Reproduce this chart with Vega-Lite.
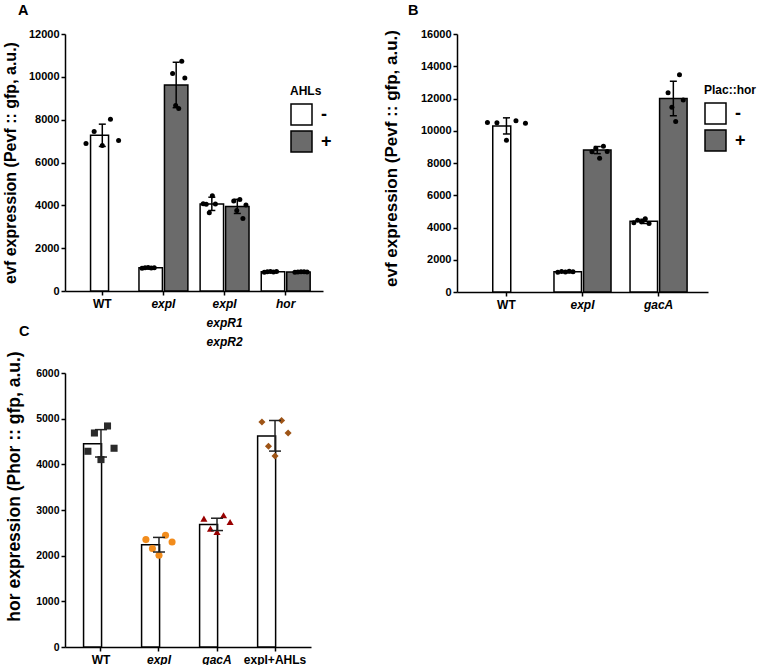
{
"$schema": "https://vega.github.io/schema/vega-lite/v6.json",
"padding": {"left": 2, "top": 2, "right": 0, "bottom": 0},
"background": "white",
"config": {
 "font": "Liberation Sans",
 "view": {"stroke": null},
 "axis": {"domainColor": "black", "domainWidth": 1.5, "tickColor": "black", "tickWidth": 1.5, "tickSize": 4, "grid": false, "labelColor": "black", "labelFontWeight": "bold", "titleColor": "black", "titleFontWeight": "bold", "labelFontSize": 11},
 "axisY": {"labelPadding": 2, "format": "d"},
 "axisX": {"labelPadding": 3, "labelFontSize": 12},
 "legend": {"orient": "none", "symbolType": "square", "symbolSize": 441, "symbolStrokeColor": "black", "symbolStrokeWidth": 1.5, "rowPadding": 0, "labelFontSize": 18, "labelFontWeight": "bold", "labelColor": "black", "titleFontSize": 12, "titleColor": "black", "titleFontWeight": "bold", "labelOffset": 8, "titlePadding": 5},
 "title": {"fontSize": 14.5, "fontWeight": "bold", "anchor": "start", "frame": "group", "color": "black"}
},
"datasets": {
 "aSum": [
  {"group": "WT", "cond": "-", "mean": 7270, "lo": 6750, "hi": 7790},
  {"group": "expI", "cond": "-", "mean": 1080, "lo": 1040, "hi": 1120},
  {"group": "expI", "cond": "+", "mean": 9620, "lo": 8560, "hi": 10680},
  {"group": "expI expR1 expR2", "cond": "-", "mean": 4060, "lo": 3760, "hi": 4380},
  {"group": "expI expR1 expR2", "cond": "+", "mean": 3950, "lo": 3620, "hi": 4280},
  {"group": "hor", "cond": "-", "mean": 900, "lo": 875, "hi": 925},
  {"group": "hor", "cond": "+", "mean": 890, "lo": 865, "hi": 915}
 ],
 "aPts": [
  {"group": "WT", "cond": "-", "rep": "-1", "value": 6889},
  {"group": "WT", "cond": "-", "rep": "-2", "value": 7448},
  {"group": "WT", "cond": "-", "rep": "-3", "value": 6796},
  {"group": "WT", "cond": "-", "rep": "-4", "value": 8022},
  {"group": "WT", "cond": "-", "rep": "-5", "value": 7028},
  {"group": "expI", "cond": "-", "rep": "-1", "value": 1060},
  {"group": "expI", "cond": "-", "rep": "-2", "value": 1090},
  {"group": "expI", "cond": "-", "rep": "-3", "value": 1100},
  {"group": "expI", "cond": "-", "rep": "-4", "value": 1070},
  {"group": "expI", "cond": "-", "rep": "-5", "value": 1080},
  {"group": "expI", "cond": "+", "rep": "+1", "value": 10150},
  {"group": "expI", "cond": "+", "rep": "+2", "value": 8661},
  {"group": "expI", "cond": "+", "rep": "+3", "value": 8521},
  {"group": "expI", "cond": "+", "rep": "+4", "value": 10726},
  {"group": "expI", "cond": "+", "rep": "+5", "value": 9950},
  {"group": "expI expR1 expR2", "cond": "-", "rep": "-1", "value": 4072},
  {"group": "expI expR1 expR2", "cond": "-", "rep": "-2", "value": 4050},
  {"group": "expI expR1 expR2", "cond": "-", "rep": "-3", "value": 3654},
  {"group": "expI expR1 expR2", "cond": "-", "rep": "-4", "value": 4446},
  {"group": "expI expR1 expR2", "cond": "-", "rep": "-5", "value": 4060},
  {"group": "expI expR1 expR2", "cond": "+", "rep": "+1", "value": 4198},
  {"group": "expI expR1 expR2", "cond": "+", "rep": "+2", "value": 3764},
  {"group": "expI expR1 expR2", "cond": "+", "rep": "+3", "value": 4276},
  {"group": "expI expR1 expR2", "cond": "+", "rep": "+4", "value": 3390},
  {"group": "expI expR1 expR2", "cond": "+", "rep": "+5", "value": 4011},
  {"group": "hor", "cond": "-", "rep": "-1", "value": 880},
  {"group": "hor", "cond": "-", "rep": "-2", "value": 900},
  {"group": "hor", "cond": "-", "rep": "-3", "value": 910},
  {"group": "hor", "cond": "-", "rep": "-4", "value": 890},
  {"group": "hor", "cond": "-", "rep": "-5", "value": 905},
  {"group": "hor", "cond": "+", "rep": "+1", "value": 880},
  {"group": "hor", "cond": "+", "rep": "+2", "value": 890},
  {"group": "hor", "cond": "+", "rep": "+3", "value": 900},
  {"group": "hor", "cond": "+", "rep": "+4", "value": 895},
  {"group": "hor", "cond": "+", "rep": "+5", "value": 885}
 ],
 "bSum": [
  {"group": "WT", "cond": "-", "mean": 10300, "lo": 9800, "hi": 10800},
  {"group": "expI", "cond": "-", "mean": 1260, "lo": 1200, "hi": 1320},
  {"group": "expI", "cond": "+", "mean": 8800, "lo": 8580, "hi": 9020},
  {"group": "gacA", "cond": "-", "mean": 4380, "lo": 4250, "hi": 4510},
  {"group": "gacA", "cond": "+", "mean": 12000, "lo": 10930, "hi": 13070}
 ],
 "bPts": [
  {"group": "WT", "cond": "-", "rep": "-1", "value": 10514},
  {"group": "WT", "cond": "-", "rep": "-2", "value": 10500},
  {"group": "WT", "cond": "-", "rep": "-3", "value": 9414},
  {"group": "WT", "cond": "-", "rep": "-4", "value": 10620},
  {"group": "WT", "cond": "-", "rep": "-5", "value": 10470},
  {"group": "expI", "cond": "-", "rep": "-1", "value": 1230},
  {"group": "expI", "cond": "-", "rep": "-2", "value": 1270},
  {"group": "expI", "cond": "-", "rep": "-3", "value": 1240},
  {"group": "expI", "cond": "-", "rep": "-4", "value": 1280},
  {"group": "expI", "cond": "-", "rep": "-5", "value": 1260},
  {"group": "expI", "cond": "+", "rep": "+1", "value": 8694},
  {"group": "expI", "cond": "+", "rep": "+2", "value": 8918},
  {"group": "expI", "cond": "+", "rep": "+3", "value": 8297},
  {"group": "expI", "cond": "+", "rep": "+4", "value": 9042},
  {"group": "expI", "cond": "+", "rep": "+5", "value": 8713},
  {"group": "gacA", "cond": "-", "rep": "-1", "value": 4300},
  {"group": "gacA", "cond": "-", "rep": "-2", "value": 4450},
  {"group": "gacA", "cond": "-", "rep": "-3", "value": 4350},
  {"group": "gacA", "cond": "-", "rep": "-4", "value": 4550},
  {"group": "gacA", "cond": "-", "rep": "-5", "value": 4250},
  {"group": "gacA", "cond": "+", "rep": "+1", "value": 12358},
  {"group": "gacA", "cond": "+", "rep": "+2", "value": 11464},
  {"group": "gacA", "cond": "+", "rep": "+3", "value": 10575},
  {"group": "gacA", "cond": "+", "rep": "+4", "value": 13476},
  {"group": "gacA", "cond": "+", "rep": "+5", "value": 11900}
 ],
 "cSum": [
  {"group": "WT", "mean": 4450, "lo": 4160, "hi": 4760},
  {"group": "expI", "mean": 2240, "lo": 2080, "hi": 2400},
  {"group": "gacA", "mean": 2680, "lo": 2550, "hi": 2820},
  {"group": "expI+AHLs", "mean": 4620, "lo": 4290, "hi": 4960}
 ],
 "cPts": [
  {"group": "WT", "rep": "1", "value": 4286},
  {"group": "WT", "rep": "2", "value": 4686},
  {"group": "WT", "rep": "3", "value": 4104},
  {"group": "WT", "rep": "4", "value": 4840},
  {"group": "WT", "rep": "5", "value": 4352},
  {"group": "expI", "rep": "1", "value": 2352},
  {"group": "expI", "rep": "2", "value": 2155},
  {"group": "expI", "rep": "3", "value": 2008},
  {"group": "expI", "rep": "4", "value": 2446},
  {"group": "expI", "rep": "5", "value": 2300},
  {"group": "gacA", "rep": "1", "value": 2812},
  {"group": "gacA", "rep": "2", "value": 2593},
  {"group": "gacA", "rep": "3", "value": 2519},
  {"group": "gacA", "rep": "4", "value": 2884},
  {"group": "gacA", "rep": "5", "value": 2738},
  {"group": "expI+AHLs", "rep": "1", "value": 4928},
  {"group": "expI+AHLs", "rep": "2", "value": 4395},
  {"group": "expI+AHLs", "rep": "3", "value": 4183},
  {"group": "expI+AHLs", "rep": "4", "value": 4958},
  {"group": "expI+AHLs", "rep": "5", "value": 4686}
 ]
},
"columns": 2,
"align": "each",
"bounds": "flush",
"spacing": {"row": 81, "column": 134},
"resolve": {"scale": {"fill": "independent", "color": "independent", "shape": "independent"}, "legend": {"fill": "independent"}},
"concat": [
 {
  "width": 258, "height": 257,
  "title": {"text": "A", "dx": -47, "offset": 10},
  "encoding": {
   "x": {"field": "group", "type": "nominal", "sort": ["WT", "expI", "expI expR1 expR2", "hor"], "scale": {"paddingInner": 0.2, "paddingOuter": 0.21}, "axis": {"title": null, "labelAngle": 0, "labelExpr": "datum.value === 'expI expR1 expR2' ? ['expI','expR1','expR2'] : datum.value", "labelLineHeight": 19, "labelFontStyle": {"condition": {"test": "datum.value === 'WT'", "value": "normal"}, "value": "italic"}}},
   "y": {"field": "mean", "type": "quantitative", "title": "evf expression (Pevf :: gfp, a.u.)", "scale": {"domain": [0, 12000], "nice": false}, "axis": {"values": [0, 2000, 4000, 6000, 8000, 10000, 12000], "titleFontSize": 16, "titlePadding": 10}}
  },
  "layer": [
   {"data": {"name": "aSum"}, "transform": [{"filter": "datum.group === 'WT'"}], "mark": {"type": "bar", "width": {"band": 0.48}, "stroke": "black", "strokeWidth": 1.5},
    "encoding": {"fill": {"field": "cond", "type": "nominal", "scale": {"domain": ["-", "+"], "range": ["#ffffff", "#6b6b6b"]}, "legend": {"title": "AHLs", "legendX": 225, "legendY": 52}}}},
   {"data": {"name": "aSum"}, "transform": [{"filter": "datum.group !== 'WT'"}], "mark": {"type": "bar", "stroke": "black", "strokeWidth": 1.5},
    "encoding": {"xOffset": {"field": "cond", "type": "nominal", "scale": {"domain": ["-", "+"], "paddingInner": 0.08, "paddingOuter": 0}}, "fill": {"field": "cond", "type": "nominal", "scale": {"domain": ["-", "+"], "range": ["#ffffff", "#6b6b6b"]}, "legend": {"title": "AHLs", "legendX": 225, "legendY": 52}}}},
   {"data": {"name": "aPts"}, "transform": [{"filter": "datum.group === 'WT'"}], "mark": {"type": "circle", "size": 25, "color": "black", "opacity": 1},
    "encoding": {"y": {"field": "value", "type": "quantitative", "title": "evf expression (Pevf :: gfp, a.u.)", "scale": {"domain": [0, 12000], "nice": false}}, "xOffset": {"field": "rep", "type": "nominal", "scale": {"domain": ["-1", "-2", "-3", "-4", "-5"], "paddingInner": 0, "paddingOuter": 8}}}},
   {"data": {"name": "aPts"}, "transform": [{"filter": "datum.group !== 'WT'"}], "mark": {"type": "circle", "size": 25, "color": "black", "opacity": 1},
    "encoding": {"y": {"field": "value", "type": "quantitative", "title": "evf expression (Pevf :: gfp, a.u.)", "scale": {"domain": [0, 12000], "nice": false}}, "xOffset": {"field": "rep", "type": "nominal", "scale": {"domain": ["-1", "-2", "-3", "-4", "-5", "g1", "g2", "g3", "g4", "g5", "+1", "+2", "+3", "+4", "+5"], "paddingInner": 0, "paddingOuter": 2.09}}}},
   {"data": {"name": "aSum"}, "transform": [{"filter": "datum.group === 'WT'"}], "mark": {"type": "rule", "color": "black", "strokeWidth": 1.5},
    "encoding": {"y": {"field": "lo", "type": "quantitative", "title": "evf expression (Pevf :: gfp, a.u.)", "scale": {"domain": [0, 12000], "nice": false}}, "y2": {"field": "hi"}}},
   {"data": {"name": "aSum"}, "transform": [{"filter": "datum.group === 'WT'"}], "mark": {"type": "tick", "color": "black", "thickness": 1.5, "size": 7, "opacity": 1},
    "encoding": {"y": {"field": "lo", "type": "quantitative", "title": "evf expression (Pevf :: gfp, a.u.)", "scale": {"domain": [0, 12000], "nice": false}}}},
   {"data": {"name": "aSum"}, "transform": [{"filter": "datum.group === 'WT'"}], "mark": {"type": "tick", "color": "black", "thickness": 1.5, "size": 7, "opacity": 1},
    "encoding": {"y": {"field": "hi", "type": "quantitative", "title": "evf expression (Pevf :: gfp, a.u.)", "scale": {"domain": [0, 12000], "nice": false}}}},
   {"data": {"name": "aSum"}, "transform": [{"filter": "datum.group !== 'WT'"}], "mark": {"type": "rule", "color": "black", "strokeWidth": 1.5},
    "encoding": {"xOffset": {"field": "cond", "type": "nominal", "scale": {"domain": ["-", "+"], "paddingInner": 0.08, "paddingOuter": 0}}, "y": {"field": "lo", "type": "quantitative", "title": "evf expression (Pevf :: gfp, a.u.)", "scale": {"domain": [0, 12000], "nice": false}}, "y2": {"field": "hi"}}},
   {"data": {"name": "aSum"}, "transform": [{"filter": "datum.group !== 'WT'"}], "mark": {"type": "tick", "color": "black", "thickness": 1.5, "size": 7, "opacity": 1},
    "encoding": {"xOffset": {"field": "cond", "type": "nominal", "scale": {"domain": ["-", "+"], "paddingInner": 0.08, "paddingOuter": 0}}, "y": {"field": "lo", "type": "quantitative", "title": "evf expression (Pevf :: gfp, a.u.)", "scale": {"domain": [0, 12000], "nice": false}}}},
   {"data": {"name": "aSum"}, "transform": [{"filter": "datum.group !== 'WT'"}], "mark": {"type": "tick", "color": "black", "thickness": 1.5, "size": 7, "opacity": 1},
    "encoding": {"xOffset": {"field": "cond", "type": "nominal", "scale": {"domain": ["-", "+"], "paddingInner": 0.08, "paddingOuter": 0}}, "y": {"field": "hi", "type": "quantitative", "title": "evf expression (Pevf :: gfp, a.u.)", "scale": {"domain": [0, 12000], "nice": false}}}}
  ],
  "resolve": {"scale": {"xOffset": "independent"}}
 },
 {
  "width": 251, "height": 258,
  "title": {"text": "B", "dx": -49, "offset": 10},
  "encoding": {
   "x": {"field": "group", "type": "nominal", "sort": ["WT", "expI", "gacA"], "scale": {"paddingInner": 0.25, "paddingOuter": 0.275}, "axis": {"title": null, "labelAngle": 0, "labelFontStyle": {"condition": {"test": "datum.value === 'WT'", "value": "normal"}, "value": "italic"}}},
   "y": {"field": "mean", "type": "quantitative", "title": "evf expression (Pevf :: gfp, a.u.)", "scale": {"domain": [0, 16000], "nice": false}, "axis": {"values": [0, 2000, 4000, 6000, 8000, 10000, 12000, 14000, 16000], "titleFontSize": 17, "titlePadding": 20, "titleY": 124}}
  },
  "layer": [
   {"data": {"name": "bSum"}, "transform": [{"filter": "datum.group === 'WT'"}], "mark": {"type": "bar", "width": {"band": 0.48}, "stroke": "black", "strokeWidth": 1.5},
    "encoding": {"fill": {"field": "cond", "type": "nominal", "scale": {"domain": ["-", "+"], "range": ["#ffffff", "#6b6b6b"]}, "legend": {"title": "Plac::hor", "legendX": 247, "legendY": 51}}}},
   {"data": {"name": "bSum"}, "transform": [{"filter": "datum.group !== 'WT'"}], "mark": {"type": "bar", "stroke": "black", "strokeWidth": 1.5},
    "encoding": {"xOffset": {"field": "cond", "type": "nominal", "scale": {"domain": ["-", "+"], "paddingInner": 0.07, "paddingOuter": 0}}, "fill": {"field": "cond", "type": "nominal", "scale": {"domain": ["-", "+"], "range": ["#ffffff", "#6b6b6b"]}, "legend": {"title": "Plac::hor", "legendX": 247, "legendY": 51}}}},
   {"data": {"name": "bPts"}, "transform": [{"filter": "datum.group === 'WT'"}], "mark": {"type": "circle", "size": 25, "color": "black", "opacity": 1},
    "encoding": {"y": {"field": "value", "type": "quantitative", "title": "evf expression (Pevf :: gfp, a.u.)", "scale": {"domain": [0, 16000], "nice": false}}, "xOffset": {"field": "rep", "type": "nominal", "scale": {"domain": ["-1", "-2", "-3", "-4", "-5"], "paddingInner": 0, "paddingOuter": 8}}}},
   {"data": {"name": "bPts"}, "transform": [{"filter": "datum.group !== 'WT'"}], "mark": {"type": "circle", "size": 25, "color": "black", "opacity": 1},
    "encoding": {"y": {"field": "value", "type": "quantitative", "title": "evf expression (Pevf :: gfp, a.u.)", "scale": {"domain": [0, 16000], "nice": false}}, "xOffset": {"field": "rep", "type": "nominal", "scale": {"domain": ["-1", "-2", "-3", "-4", "-5", "g1", "g2", "g3", "g4", "+1", "+2", "+3", "+4", "+5"], "paddingInner": 0, "paddingOuter": 1.69}}}},
   {"data": {"name": "bSum"}, "transform": [{"filter": "datum.group === 'WT'"}], "mark": {"type": "rule", "color": "black", "strokeWidth": 1.5},
    "encoding": {"y": {"field": "lo", "type": "quantitative", "title": "evf expression (Pevf :: gfp, a.u.)", "scale": {"domain": [0, 16000], "nice": false}}, "y2": {"field": "hi"}}},
   {"data": {"name": "bSum"}, "transform": [{"filter": "datum.group === 'WT'"}], "mark": {"type": "tick", "color": "black", "thickness": 1.5, "size": 7, "opacity": 1},
    "encoding": {"y": {"field": "lo", "type": "quantitative", "title": "evf expression (Pevf :: gfp, a.u.)", "scale": {"domain": [0, 16000], "nice": false}}}},
   {"data": {"name": "bSum"}, "transform": [{"filter": "datum.group === 'WT'"}], "mark": {"type": "tick", "color": "black", "thickness": 1.5, "size": 7, "opacity": 1},
    "encoding": {"y": {"field": "hi", "type": "quantitative", "title": "evf expression (Pevf :: gfp, a.u.)", "scale": {"domain": [0, 16000], "nice": false}}}},
   {"data": {"name": "bSum"}, "transform": [{"filter": "datum.group !== 'WT'"}], "mark": {"type": "rule", "color": "black", "strokeWidth": 1.5},
    "encoding": {"xOffset": {"field": "cond", "type": "nominal", "scale": {"domain": ["-", "+"], "paddingInner": 0.07, "paddingOuter": 0}}, "y": {"field": "lo", "type": "quantitative", "title": "evf expression (Pevf :: gfp, a.u.)", "scale": {"domain": [0, 16000], "nice": false}}, "y2": {"field": "hi"}}},
   {"data": {"name": "bSum"}, "transform": [{"filter": "datum.group !== 'WT'"}], "mark": {"type": "tick", "color": "black", "thickness": 1.5, "size": 7, "opacity": 1},
    "encoding": {"xOffset": {"field": "cond", "type": "nominal", "scale": {"domain": ["-", "+"], "paddingInner": 0.07, "paddingOuter": 0}}, "y": {"field": "lo", "type": "quantitative", "title": "evf expression (Pevf :: gfp, a.u.)", "scale": {"domain": [0, 16000], "nice": false}}}},
   {"data": {"name": "bSum"}, "transform": [{"filter": "datum.group !== 'WT'"}], "mark": {"type": "tick", "color": "black", "thickness": 1.5, "size": 7, "opacity": 1},
    "encoding": {"xOffset": {"field": "cond", "type": "nominal", "scale": {"domain": ["-", "+"], "paddingInner": 0.07, "paddingOuter": 0}}, "y": {"field": "hi", "type": "quantitative", "title": "evf expression (Pevf :: gfp, a.u.)", "scale": {"domain": [0, 16000], "nice": false}}}}
  ],
  "resolve": {"scale": {"xOffset": "independent"}}
 },
 {
  "width": 246, "height": 274,
  "title": {"text": "C", "dx": -46, "offset": 11},
  "encoding": {
   "x": {"field": "group", "type": "nominal", "sort": ["WT", "expI", "gacA", "expI+AHLs"], "scale": {"paddingInner": 0.4, "paddingOuter": 0.32}, "axis": {"title": null, "labelAngle": 0, "labelFontStyle": {"condition": {"test": "datum.value === 'WT' || datum.value === 'expI+AHLs'", "value": "normal"}, "value": "italic"}}},
   "y": {"field": "mean", "type": "quantitative", "title": "hor expression (Phor :: gfp, a.u.)", "scale": {"domain": [0, 6000], "nice": false}, "axis": {"values": [0, 1000, 2000, 3000, 4000, 5000, 6000], "titleFontSize": 17.5, "titlePadding": 12, "titleY": 113, "labelFontSize": 10.5}}
  },
  "layer": [
   {"data": {"name": "cSum"}, "mark": {"type": "bar", "fill": "white", "stroke": "black", "strokeWidth": 1.5}},
   {"data": {"name": "cPts"}, "mark": {"type": "point", "filled": true, "opacity": 1, "size": 50},
    "encoding": {"y": {"field": "value", "type": "quantitative", "title": "hor expression (Phor :: gfp, a.u.)", "scale": {"domain": [0, 6000], "nice": false}},
     "xOffset": {"field": "rep", "type": "nominal", "scale": {"domain": ["1", "2", "3", "4", "5"], "paddingInner": 0, "paddingOuter": 0.66}},
     "color": {"field": "group", "type": "nominal", "scale": {"domain": ["WT", "expI", "gacA", "expI+AHLs"], "range": ["#2b2b2b", "#f28c1c", "#990000", "#9e5416"]}, "legend": null},
     "shape": {"field": "group", "type": "nominal", "scale": {"domain": ["WT", "expI", "gacA", "expI+AHLs"], "range": ["square", "circle", "triangle-up", "diamond"]}, "legend": null}}},
   {"data": {"name": "cSum"}, "mark": {"type": "rule", "color": "#222222", "strokeWidth": 1.5},
    "encoding": {"y": {"field": "lo", "type": "quantitative", "title": "hor expression (Phor :: gfp, a.u.)", "scale": {"domain": [0, 6000], "nice": false}}, "y2": {"field": "hi"}}},
   {"data": {"name": "cSum"}, "mark": {"type": "tick", "color": "#222222", "thickness": 1.5, "size": 12, "opacity": 1},
    "encoding": {"y": {"field": "lo", "type": "quantitative", "title": "hor expression (Phor :: gfp, a.u.)", "scale": {"domain": [0, 6000], "nice": false}}}},
   {"data": {"name": "cSum"}, "mark": {"type": "tick", "color": "#222222", "thickness": 1.5, "size": 12, "opacity": 1},
    "encoding": {"y": {"field": "hi", "type": "quantitative", "title": "hor expression (Phor :: gfp, a.u.)", "scale": {"domain": [0, 6000], "nice": false}}}}
  ]
 }
]
}
